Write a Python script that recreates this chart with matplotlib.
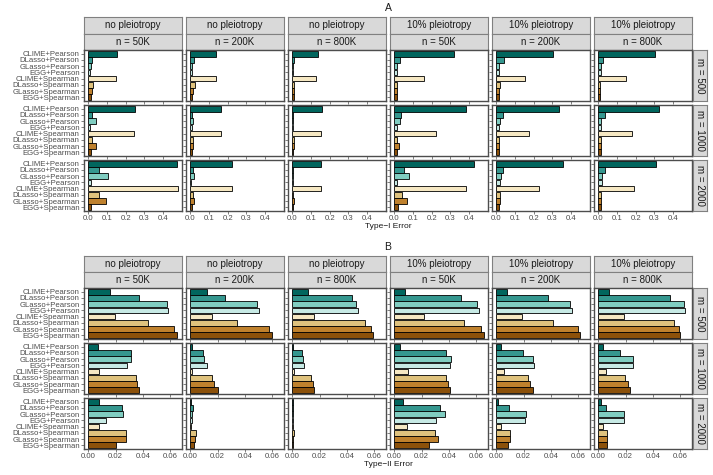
import matplotlib
matplotlib.use('Agg')
import matplotlib.pyplot as plt

plt.rcParams['font.family'] = ['Liberation Sans', 'DejaVu Sans']

methods = ["CLIME+Pearson", "DLasso+Pearson", "GLasso+Pearson", "EGG+Pearson",
           "CLIME+Spearman", "DLasso+Spearman", "GLasso+Spearman", "EGG+Spearman"]
pleiotropy = ["no pleiotropy", "no pleiotropy", "no pleiotropy",
              "10% pleiotropy", "10% pleiotropy", "10% pleiotropy"]
sample_sizes = ["n = 50K", "n = 200K", "n = 800K", "n = 50K", "n = 200K", "n = 800K"]
m_labels = ["m = 500", "m = 1000", "m = 2000"]

# Type-I error, each: rows m=500, m=1000, m=2000
type1_nopleio_50k = [[0.155, 0.020, 0.016, 0.010, 0.150, 0.023, 0.018, 0.012],
                     [0.252, 0.018, 0.040, 0.010, 0.246, 0.020, 0.040, 0.014],
                     [0.477, 0.057, 0.105, 0.011, 0.479, 0.057, 0.096, 0.014]]
type1_nopleio_200k = [[0.137, 0.018, 0.009, 0.009, 0.135, 0.023, 0.011, 0.009],
                      [0.163, 0.009, 0.012, 0.007, 0.163, 0.012, 0.012, 0.009],
                      [0.225, 0.012, 0.020, 0.005, 0.225, 0.014, 0.020, 0.007]]
type1_nopleio_800k = [[0.136, 0.007, 0.005, 0.005, 0.129, 0.007, 0.007, 0.007],
                      [0.157, 0.005, 0.005, 0.004, 0.154, 0.007, 0.007, 0.005],
                      [0.154, 0.004, 0.004, 0.003, 0.155, 0.005, 0.007, 0.004]]
type1_pleio_50k = [[0.321, 0.032, 0.014, 0.011, 0.157, 0.014, 0.011, 0.011],
                   [0.386, 0.036, 0.030, 0.016, 0.225, 0.014, 0.027, 0.014],
                   [0.427, 0.054, 0.077, 0.014, 0.386, 0.043, 0.068, 0.018]]
type1_pleio_200k = [[0.304, 0.039, 0.0125, 0.0125, 0.152, 0.018, 0.011, 0.011],
                    [0.336, 0.034, 0.018, 0.016, 0.177, 0.014, 0.016, 0.0125],
                    [0.357, 0.037, 0.023, 0.018, 0.229, 0.020, 0.021, 0.014]]
type1_pleio_800k = [[0.302, 0.027, 0.011, 0.011, 0.150, 0.009, 0.009, 0.009],
                    [0.323, 0.034, 0.016, 0.016, 0.180, 0.0125, 0.0125, 0.0125],
                    [0.307, 0.0375, 0.018, 0.018, 0.189, 0.016, 0.014, 0.014]]

# Type-II error
type2_nopleio_50k = [[0.0156, 0.0368, 0.0573, 0.0585, 0.0193, 0.0435, 0.0627, 0.0652],
                     [0.0069, 0.0309, 0.0314, 0.0281, 0.0074, 0.0350, 0.0353, 0.0373],
                     [0.0079, 0.0249, 0.0257, 0.0131, 0.0079, 0.0272, 0.0277, 0.0200]]
type2_nopleio_200k = [[0.0120, 0.0257, 0.0485, 0.0502, 0.0160, 0.0340, 0.0580, 0.0600],
                      [0.0010, 0.0093, 0.0103, 0.0123, 0.0015, 0.0160, 0.0175, 0.0205],
                      [0.0003, 0.0020, 0.0015, 0.0008, 0.0003, 0.0040, 0.0033, 0.0023]]
type2_nopleio_800k = [[0.0115, 0.0435, 0.0468, 0.0478, 0.0160, 0.0530, 0.0580, 0.0590],
                      [0.0005, 0.0070, 0.0078, 0.0085, 0.0008, 0.0135, 0.0148, 0.0158],
                      [0.0003, 0.0004, 0.0004, 0.0003, 0.0002, 0.0008, 0.0006, 0.0004]]
type2_pleio_50k = [[0.0081, 0.0489, 0.0607, 0.0617, 0.0217, 0.0509, 0.0637, 0.0654],
                   [0.0042, 0.0380, 0.0412, 0.0407, 0.0096, 0.0375, 0.0393, 0.0410],
                   [0.0064, 0.0338, 0.0368, 0.0304, 0.0089, 0.0301, 0.0316, 0.0252]]
type2_pleio_200k = [[0.0078, 0.0375, 0.0540, 0.0555, 0.0190, 0.0415, 0.0600, 0.0615],
                    [0.0033, 0.0195, 0.0270, 0.0273, 0.0053, 0.0228, 0.0243, 0.0265],
                    [0.0015, 0.0090, 0.0220, 0.0213, 0.0030, 0.0100, 0.0098, 0.0088]]
type2_pleio_800k = [[0.0078, 0.0525, 0.0630, 0.0638, 0.0185, 0.0555, 0.0593, 0.0598],
                    [0.0033, 0.0155, 0.0250, 0.0253, 0.0053, 0.0198, 0.0218, 0.0230],
                    [0.0018, 0.0055, 0.0188, 0.0185, 0.0035, 0.0060, 0.0060, 0.0060]]

type1_cols = [type1_nopleio_50k, type1_nopleio_200k, type1_nopleio_800k,
              type1_pleio_50k, type1_pleio_200k, type1_pleio_800k]
type2_cols = [type2_nopleio_50k, type2_nopleio_200k, type2_nopleio_800k,
              type2_pleio_50k, type2_pleio_200k, type2_pleio_800k]

type1_ticks = [0.0, 0.1, 0.2, 0.3, 0.4]
type1_ticklabels = ["0.0", "0.1", "0.2", "0.3", "0.4"]
type2_ticks = [0.00, 0.02, 0.04, 0.06]
type2_ticklabels = ["0.00", "0.02", "0.04", "0.06"]

colors = ["#01665E", "#35978F", "#80CDC1", "#C7EAE5",
          "#F6E8C3", "#DFC27D", "#BF812D", "#8C510A"]

W, H = 713, 475
fig = plt.figure(figsize=(W / 100, H / 100), dpi=100)
BORDER = "#4D4D4D"
STRIP_BORDER = "#808080"
STRIP_FILL = "#D9D9D9"


def add_ax(x0, y0, x1, y1):
    return fig.add_axes([x0 / W, 1 - y1 / H, (x1 - x0) / W, (y1 - y0) / H])


def strip(x0, y0, x1, y1, text, rotation=0):
    ax = add_ax(x0, y0, x1, y1)
    ax.set_facecolor(STRIP_FILL)
    ax.set_xticks([])
    ax.set_yticks([])
    for s in ax.spines.values():
        s.set_color(STRIP_BORDER)
        s.set_linewidth(0.8)
    ax.text(0.5, 0.5, text, ha='center', va='center', fontsize=7,
            color='#1A1A1A', rotation=rotation, transform=ax.transAxes)


def group(cols, top, title, xlabel, ticks, ticklabels, strip_h):
    left, step, width = 84, 102, 98
    row_top0 = top + 2 * strip_h
    row_step, row_h = 55, 51
    mx = max(max(max(r) for r in c) for c in cols)
    fig.text(388 / W, 1 - (top - 9) / H, title, ha='center', va='center',
             fontsize=7.5, color='#1A1A1A')
    for c, data in enumerate(cols):
        x0 = left + c * step
        strip(x0, top, x0 + width, top + strip_h, pleiotropy[c])
        strip(x0, top + strip_h, x0 + width, top + 2 * strip_h, sample_sizes[c])
        for r in range(3):
            y0 = row_top0 + r * row_step
            ax = add_ax(x0, y0, x0 + width, y0 + row_h)
            ax.barh(range(len(methods)), data[r], height=0.9, color=colors,
                    edgecolor='black', linewidth=0.6)
            ax.set_ylim(len(methods) - 0.4, -0.6)
            ax.set_xlim(-0.05 * mx, 1.05 * mx)
            for s in ax.spines.values():
                s.set_color(BORDER)
                s.set_linewidth(1.0)
            ax.tick_params(length=2.2, width=0.5, color=BORDER,
                           labelsize=5.6, labelcolor='#4D4D4D', pad=1)
            ax.set_yticks(range(len(methods)))
            if c == 0:
                ax.set_yticklabels(methods)
            else:
                ax.set_yticklabels([])
            ax.set_xticks(ticks)
            if r == 2:
                ax.set_xticklabels(ticklabels)
            else:
                ax.set_xticklabels([])
            if c == len(cols) - 1:
                strip(x0 + width + 1, y0, x0 + width + 15, y0 + row_h,
                      m_labels[r], rotation=-90)
    bottom = row_top0 + 2 * row_step + row_h
    fig.text(388 / W, 1 - (bottom + 16) / H, xlabel, ha='center', va='center',
             fontsize=6, color='#1A1A1A')


group(type1_cols, 17, "A", "Type\u2212I Error", type1_ticks, type1_ticklabels, 16.5)
group(type2_cols, 256, "B", "Type\u2212II Error", type2_ticks, type2_ticklabels, 16)

fig.savefig("out.png", dpi=100, facecolor='white')
